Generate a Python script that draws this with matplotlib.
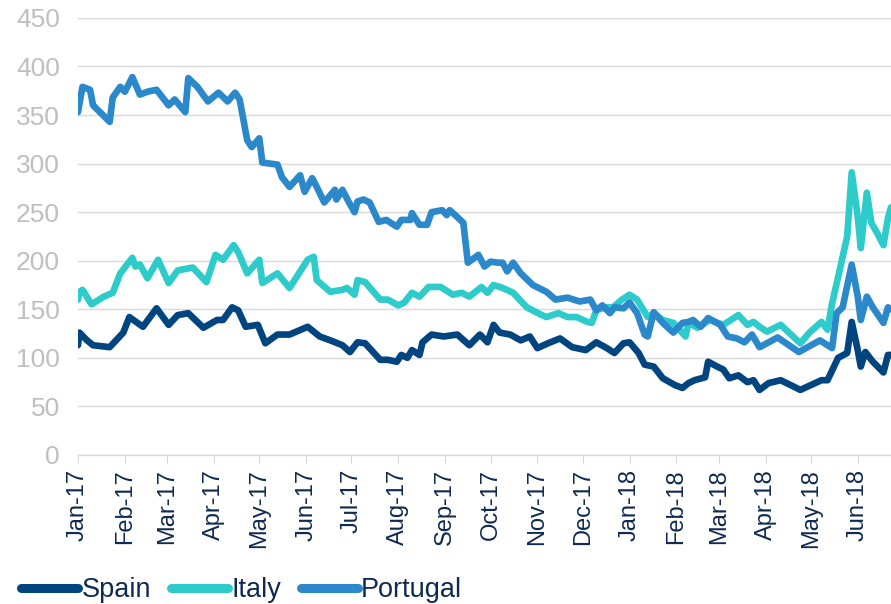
import matplotlib
matplotlib.use("Agg")
import matplotlib.pyplot as plt
import matplotlib.dates as mdates
import pandas as pd

# ---------------- data ----------------
spain_dates = ["2017-01-01", "2017-01-02", "2017-01-07", "2017-01-11", "2017-01-22", "2017-01-31",
               "2017-02-04", "2017-02-13", "2017-02-22", "2017-03-02", "2017-03-08", "2017-03-15",
               "2017-03-25", "2017-04-03", "2017-04-07", "2017-04-13", "2017-04-17", "2017-04-22",
               "2017-04-30", "2017-05-05", "2017-05-13", "2017-05-21", "2017-06-02", "2017-06-06",
               "2017-06-10", "2017-06-17", "2017-06-25", "2017-06-30", "2017-07-05", "2017-07-10",
               "2017-07-20", "2017-07-25", "2017-07-31", "2017-08-03", "2017-08-07", "2017-08-10",
               "2017-08-15", "2017-08-17", "2017-08-23", "2017-08-31", "2017-09-09", "2017-09-17",
               "2017-09-24", "2017-09-29", "2017-10-03", "2017-10-07", "2017-10-14", "2017-10-21",
               "2017-10-27", "2017-11-01", "2017-11-08", "2017-11-16", "2017-11-24", "2017-12-03",
               "2017-12-10", "2017-12-17", "2017-12-22", "2017-12-28", "2018-01-01", "2018-01-07",
               "2018-01-11", "2018-01-17", "2018-01-23", "2018-01-31", "2018-02-05", "2018-02-09",
               "2018-02-13", "2018-02-20", "2018-02-22", "2018-02-28", "2018-03-04", "2018-03-08",
               "2018-03-14", "2018-03-20", "2018-03-24", "2018-03-28", "2018-04-03", "2018-04-11",
               "2018-04-24", "2018-05-08", "2018-05-12", "2018-05-19", "2018-05-25", "2018-05-28",
               "2018-06-01", "2018-06-03", "2018-06-06", "2018-06-11", "2018-06-18", "2018-06-21",
               "2018-06-23"]
spain_values = [113, 126, 118, 113, 111, 126,
                142, 132, 151, 134, 144, 146,
                131, 139, 139, 152, 149, 132,
                134, 115, 124, 124, 132, 127,
                122, 118, 113, 106, 116, 115,
                98, 98, 96, 103, 100, 108,
                103, 116, 124, 122, 124, 113,
                124, 116, 134, 126, 124, 118,
                122, 110, 115, 120, 111, 108,
                116, 110, 105, 115, 116, 105,
                93, 91, 79, 72, 69, 74,
                77, 80, 96, 91, 88, 79,
                82, 75, 77, 67, 74, 77,
                67, 77, 77, 100, 105, 137,
                108, 91, 106, 96, 85, 103,
                103]

italy_dates = ["2017-01-01", "2017-01-02", "2017-01-04", "2017-01-10", "2017-01-18", "2017-01-24",
               "2017-01-29", "2017-02-06", "2017-02-08", "2017-02-11", "2017-02-16", "2017-02-23",
               "2017-03-02", "2017-03-08", "2017-03-18", "2017-03-27", "2017-04-02", "2017-04-07",
               "2017-04-14", "2017-04-17", "2017-04-23", "2017-05-01", "2017-05-03", "2017-05-13",
               "2017-05-21", "2017-06-02", "2017-06-06", "2017-06-08", "2017-06-17", "2017-06-25",
               "2017-06-28", "2017-07-03", "2017-07-05", "2017-07-10", "2017-07-20", "2017-07-25",
               "2017-08-01", "2017-08-05", "2017-08-10", "2017-08-15", "2017-08-21", "2017-08-29",
               "2017-09-06", "2017-09-12", "2017-09-17", "2017-09-25", "2017-09-29", "2017-10-03",
               "2017-10-09", "2017-10-16", "2017-10-25", "2017-11-04", "2017-11-07", "2017-11-15",
               "2017-11-21", "2017-11-27", "2017-12-04", "2017-12-07", "2017-12-10", "2017-12-16",
               "2017-12-21", "2017-12-27", "2018-01-01", "2018-01-06", "2018-01-13", "2018-01-17",
               "2018-01-23", "2018-01-30", "2018-02-07", "2018-02-09", "2018-02-15", "2018-02-23",
               "2018-03-04", "2018-03-14", "2018-03-20", "2018-03-24", "2018-03-28", "2018-04-02",
               "2018-04-11", "2018-04-24", "2018-04-30", "2018-05-08", "2018-05-12", "2018-05-15",
               "2018-05-20", "2018-05-25", "2018-05-28", "2018-06-01", "2018-06-03", "2018-06-07",
               "2018-06-10", "2018-06-14", "2018-06-18", "2018-06-21", "2018-06-23"]
italy_values = [160, 168, 170, 155, 163, 167,
                187, 203, 194, 196, 182, 201,
                177, 190, 193, 178, 206, 201,
                216, 209, 187, 201, 177, 187,
                172, 201, 204, 180, 168, 170,
                172, 165, 180, 178, 160, 160,
                154, 157, 167, 163, 173, 173,
                165, 167, 163, 173, 167, 175,
                172, 167, 152, 144, 142, 146,
                142, 142, 137, 136, 149, 152,
                152, 160, 165, 160, 142, 146,
                139, 136, 122, 136, 131, 139,
                134, 144, 134, 137, 132, 127,
                134, 115, 126, 137, 129, 156,
                190, 225, 291, 245, 213, 270,
                239, 228, 216, 244, 255]

portugal_dates = ["2017-01-01", "2017-01-04", "2017-01-09", "2017-01-11", "2017-01-22", "2017-01-24",
                  "2017-01-29", "2017-02-01", "2017-02-06", "2017-02-11", "2017-02-16", "2017-02-22",
                  "2017-03-02", "2017-03-06", "2017-03-13", "2017-03-15", "2017-03-21", "2017-03-28",
                  "2017-04-04", "2017-04-10", "2017-04-15", "2017-04-18", "2017-04-23", "2017-04-26",
                  "2017-05-01", "2017-05-03", "2017-05-13", "2017-05-16", "2017-05-21", "2017-05-28",
                  "2017-05-31", "2017-06-05", "2017-06-08", "2017-06-13", "2017-06-20", "2017-06-21",
                  "2017-06-25", "2017-06-29", "2017-07-03", "2017-07-05", "2017-07-09", "2017-07-13",
                  "2017-07-19", "2017-07-24", "2017-07-31", "2017-08-03", "2017-08-09", "2017-08-10",
                  "2017-08-15", "2017-08-20", "2017-08-23", "2017-08-30", "2017-09-02", "2017-09-04",
                  "2017-09-09", "2017-09-13", "2017-09-16", "2017-09-23", "2017-09-27", "2017-10-01",
                  "2017-10-06", "2017-10-09", "2017-10-12", "2017-10-16", "2017-10-21", "2017-10-29",
                  "2017-11-07", "2017-11-13", "2017-11-21", "2017-11-29", "2017-12-06", "2017-12-10",
                  "2017-12-14", "2017-12-19", "2017-12-22", "2017-12-28", "2018-01-01", "2018-01-06",
                  "2018-01-11", "2018-01-13", "2018-01-17", "2018-01-23", "2018-01-30", "2018-02-05",
                  "2018-02-09", "2018-02-12", "2018-02-17", "2018-02-22", "2018-03-02", "2018-03-07",
                  "2018-03-13", "2018-03-18", "2018-03-23", "2018-03-28", "2018-04-03", "2018-04-09",
                  "2018-04-23", "2018-05-07", "2018-05-15", "2018-05-18", "2018-05-22", "2018-05-28",
                  "2018-06-01", "2018-06-03", "2018-06-07", "2018-06-11", "2018-06-18", "2018-06-21",
                  "2018-06-23"]
portugal_values = [353, 379, 376, 360, 343, 368,
                   379, 374, 389, 371, 374, 376,
                   360, 366, 353, 388, 379, 364,
                   373, 364, 373, 366, 324, 317,
                   326, 301, 299, 286, 276, 288,
                   271, 285, 276, 260, 273, 263,
                   273, 261, 250, 261, 263, 260,
                   240, 242, 235, 242, 242, 249,
                   237, 237, 250, 252, 247, 252,
                   245, 239, 198, 206, 194, 199,
                   198, 198, 189, 198, 187, 175,
                   168, 160, 162, 158, 160, 149,
                   154, 146, 152, 151, 157, 146,
                   124, 122, 147, 136, 126, 136,
                   137, 139, 132, 141, 134, 122,
                   120, 116, 124, 111, 116, 121,
                   106, 118, 110, 146, 152, 196,
                   163, 139, 163, 152, 136, 152,
                   150]

series_names = ["Spain", "Italy", "Portugal"]
series_colors = ["#00457F", "#2DCCCB", "#2B88CB"]
month_ticks = pd.date_range("2017-01-01", "2018-06-01", freq="MS")
y_ticks = [0, 50, 100, 150, 200, 250, 300, 350, 400, 450]
x_start, x_end = "2017-01-01", "2018-06-23"

# ---------------- figure ----------------
plt.rcParams["font.family"] = ["Liberation Sans", "DejaVu Sans"]
fig = plt.figure(figsize=(8.91, 6.04), dpi=100)
ax = fig.add_axes([0.0875, 0.2467, 0.9125, 0.7237])

all_dates = [spain_dates, italy_dates, portugal_dates]
all_values = [spain_values, italy_values, portugal_values]
lines = []
for name, color, d, v in zip(series_names, series_colors, all_dates, all_values):
    ln, = ax.plot(pd.to_datetime(d), v, color=color, lw=4.8, label=name,
                  solid_joinstyle="round", solid_capstyle="round", zorder=3)
    lines.append(ln)

ax.set_xlim(pd.Timestamp(x_start), pd.Timestamp(x_end))
ax.set_ylim(0, 450)
ax.set_yticks(y_ticks)
ax.set_xticks(month_ticks)
ax.xaxis.set_major_formatter(mdates.DateFormatter("%b-%y"))

ax.grid(axis="y", color="#d9d9d9", lw=1.0, zorder=0)
ax.grid(axis="x", visible=False)
for s in ["top", "right", "left"]:
    ax.spines[s].set_visible(False)
ax.spines["bottom"].set_color("#d9d9d9")
ax.spines["bottom"].set_linewidth(1.0)

ax.tick_params(axis="y", length=0, labelsize=19, labelcolor="#bfbfbf", pad=13)
ax.tick_params(axis="x", length=6, color="#d9d9d9", labelsize=17,
               labelcolor="#0f2a4f", pad=4)
for lab in ax.get_xticklabels():
    lab.set_rotation(90)

leg = fig.legend(handles=lines, labels=series_names, loc="center left",
                 bbox_to_anchor=(0.024, 1 - 590 / 604), ncol=3, frameon=False,
                 fontsize=19.5, handlelength=2.1, handletextpad=0.12,
                 columnspacing=0.74, borderpad=0, borderaxespad=0)
for t in leg.get_texts():
    t.set_color("#0f2a4f")
for h in leg.legend_handles:
    h.set_linewidth(6.5)
    h.set_solid_capstyle("round")

fig.savefig("out.png", dpi=100)
